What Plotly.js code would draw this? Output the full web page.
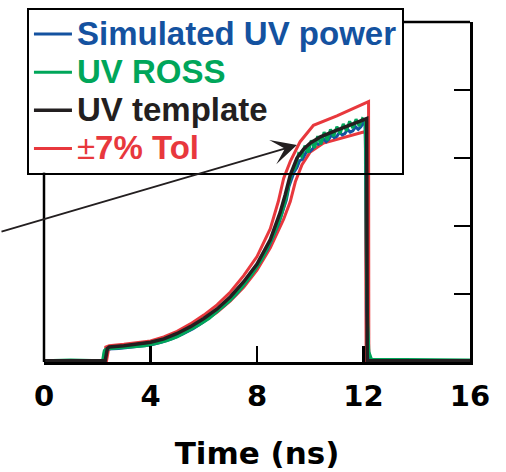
<!DOCTYPE html>
<html>
<head>
<meta charset="utf-8">
<script src="https://cdn.plot.ly/plotly-3.0.1.min.js"></script>
<style>html,body{margin:0;padding:0;background:#fff;}#chart{width:506px;height:472px;}</style>
</head>
<body>
<div id="chart"></div>
<script>
// ---- data ----
const xTickVals = [0, 4, 8, 12, 16];
const xTickText = ['0', '4', '8', '12', '16'];

const tTemplate = [0, 2.3, 2.38, 2.45, 3.0, 3.5, 4.0, 4.5, 5.0, 5.5, 6.0, 6.5, 7.0, 7.5, 8.0, 8.5, 8.87, 9.06, 9.25, 9.5, 9.75, 10.0, 10.38, 11.0, 11.5, 12.12, 12.14, 16];
const yTemplate = [0.02, 0.02, 0.20, 0.22, 0.24, 0.26, 0.29, 0.34, 0.42, 0.52, 0.64, 0.78, 0.96, 1.18, 1.44, 1.80, 2.20, 2.46, 2.75, 3.00, 3.13, 3.22, 3.31, 3.41, 3.48, 3.58, 0.02, 0.02];

const tTolUp = [0, 2.28, 2.32, 2.45, 3.0, 3.5, 4.0, 4.5, 5.0, 5.5, 6.0, 6.5, 7.0, 7.5, 8.0, 8.5, 8.8, 9.0, 9.25, 9.62, 10.12, 11.0, 12.19, 12.2, 16];
const yTolUp = [0.02, 0.02, 0.22, 0.24, 0.26, 0.28, 0.31, 0.37, 0.45, 0.56, 0.69, 0.84, 1.03, 1.27, 1.55, 1.96, 2.36, 2.70, 2.95, 3.24, 3.48, 3.62, 3.83, 0.02, 0.02];

const tTolLow = [0, 2.35, 2.42, 2.5, 3.0, 3.5, 4.0, 4.5, 5.0, 5.5, 6.0, 6.5, 7.0, 7.5, 8.0, 8.5, 9.0, 9.25, 9.44, 9.69, 10.0, 10.5, 12.07, 12.1, 16];
const yTolLow = [0.02, 0.02, 0.18, 0.20, 0.22, 0.24, 0.27, 0.31, 0.39, 0.48, 0.60, 0.73, 0.90, 1.10, 1.35, 1.68, 2.10, 2.36, 2.65, 2.90, 3.09, 3.22, 3.39, 0.02, 0.02];

const tRoss = [0, 1, 2.2, 2.26, 2.32, 2.6, 3.0, 3.4, 3.8, 4.2, 4.6, 5.0, 5.4, 5.8, 6.2, 6.6, 7.0, 7.4, 7.8, 8.2, 8.6, 8.9, 9.1,
  9.2, 9.32, 9.44, 9.56, 9.68, 9.8, 9.92, 10.04, 10.16, 10.28, 10.4, 10.52, 10.64, 10.76, 10.88, 11.0, 11.12, 11.24, 11.36, 11.48, 11.6, 11.72, 11.84, 11.96, 12.06, 12.08, 12.12, 12.2, 12.3, 16];
const yRoss = [0.02, 0.03, 0.02, 0.16, 0.19, 0.20, 0.21, 0.22, 0.24, 0.27, 0.31, 0.37, 0.45, 0.54, 0.64, 0.77, 0.91, 1.08, 1.28, 1.52, 1.84, 2.14, 2.42,
  2.62, 2.80, 2.86, 3.06, 3.02, 3.18, 3.08, 3.26, 3.15, 3.32, 3.20, 3.38, 3.26, 3.42, 3.32, 3.46, 3.36, 3.50, 3.40, 3.54, 3.44, 3.57, 3.47, 3.58, 3.56, 3.20, 1.00, 0.15, 0.04, 0.03];

const tSim = [0, 2.22, 2.28, 2.4, 2.8, 3.2, 3.6, 4.0, 4.4, 4.8, 5.2, 5.6, 6.0, 6.4, 6.8, 7.2, 7.6, 8.0, 8.4, 8.8, 9.1,
  9.2, 9.3, 9.4, 9.5, 9.6, 9.7, 9.8, 9.9, 10.0, 10.1, 10.2, 10.3, 10.4, 10.5, 10.6, 10.7, 10.8, 10.9, 11.0, 11.1, 11.2, 11.3, 11.4, 11.5, 11.6, 11.7, 11.8, 11.9, 12.0, 12.06, 12.08, 12.12, 12.2, 12.3, 16];
const ySim = [0.02, 0.02, 0.17, 0.19, 0.20, 0.22, 0.23, 0.25, 0.29, 0.34, 0.41, 0.49, 0.59, 0.71, 0.84, 0.99, 1.18, 1.40, 1.66, 2.02, 2.38,
  2.58, 2.70, 2.80, 2.86, 2.96, 2.98, 3.06, 3.12, 3.10, 3.14, 3.22, 3.20, 3.22, 3.28, 3.24, 3.28, 3.34, 3.30, 3.32, 3.38, 3.34, 3.36, 3.42, 3.38, 3.40, 3.46, 3.42, 3.46, 3.52, 3.50, 3.00, 0.80, 0.10, 0.03, 0.02];

const names = ['Simulated UV power', 'UV ROSS', 'UV template', '7% Tol'];
const colors = { sim: '#1452A0', ross: '#00A65A', tpl: '#231F20', tol: '#E8383D' };

function legendName(label, color, prefix) {
  return '<span style="font-size:33px;color:' + color + '">' + (prefix || '') + label + '</span>';
}

// ---- traces (draw order: tolerance, simulated, ROSS, template) ----
const traces = [
  { x: tTolUp, y: yTolUp, mode: 'lines', line: { color: colors.tol, width: 3 },
    name: legendName(names[3], colors.tol, '<span style="font-weight:normal">±</span>'),
    legendgroup: 'tol', legendrank: 4 },
  { x: tTolLow, y: yTolLow, mode: 'lines', line: { color: colors.tol, width: 3 },
    legendgroup: 'tol', showlegend: false },
  { x: tSim, y: ySim, mode: 'lines', line: { color: colors.sim, width: 3 },
    name: legendName(names[0], colors.sim), legendrank: 1 },
  { x: tRoss, y: yRoss, mode: 'lines', line: { color: colors.ross, width: 3 },
    name: legendName(names[1], colors.ross), legendrank: 2 },
  { x: tTemplate, y: yTemplate, mode: 'lines', line: { color: colors.tpl, width: 3.5 },
    name: legendName(names[2], colors.tpl), legendrank: 3 }
];

const axisFont = { family: 'DejaVu Sans, Arial, sans-serif', size: 29, color: '#000', weight: 'bold' };

const layout = {
  width: 506, height: 472,
  margin: { l: 44, r: 36, t: 22, b: 110, pad: 0, autoexpand: false },
  paper_bgcolor: '#fff', plot_bgcolor: '#fff',
  showlegend: true,
  legend: {
    x: -0.04, y: 1.041, xanchor: 'left', yanchor: 'top',
    bgcolor: 'rgba(255,255,255,0)', bordercolor: '#000', borderwidth: 2,
    font: { family: 'Liberation Sans, Arial, sans-serif', size: 27, color: '#000', weight: 'bold' },
    traceorder: 'normal', itemwidth: 38
  },
  xaxis: {
    range: [0, 16], tickmode: 'array', tickvals: xTickVals, ticktext: xTickText,
    ticks: 'inside', ticklen: 16, tickwidth: 2.5, tickcolor: '#000',
    showline: true, linewidth: 2.5, linecolor: '#000', mirror: false,
    showgrid: false, zeroline: false, tickfont: axisFont, ticklabelstandoff: 7,
    title: { text: 'Time (ns)', font: { family: 'DejaVu Sans, Arial, sans-serif', size: 31, color: '#000', weight: 'bold' }, standoff: 30 }
  },
  yaxis: {
    range: [0, 5], side: 'right', tickmode: 'array', tickvals: [1, 2, 3, 4],
    ticks: 'inside', ticklen: 16, tickwidth: 2.5, tickcolor: '#000',
    showline: true, linewidth: 2.5, linecolor: '#000', mirror: false,
    showticklabels: false, showgrid: false, zeroline: false
  },
  yaxis2: {
    range: [0, 5], overlaying: 'y', side: 'left', tickmode: 'array', tickvals: [1, 2],
    ticks: 'inside', ticklen: 16, tickwidth: 2.5, tickcolor: '#000',
    showline: false, showticklabels: false, showgrid: false, zeroline: false
  },
  shapes: [
    { type: 'line', xref: 'paper', yref: 'paper', x0: 0, x1: 0, y0: 0, y1: 0.557, line: { color: '#000', width: 2.5 } },
    { type: 'line', xref: 'paper', yref: 'paper', x0: 0.845, x1: 1, y0: 1, y1: 1, line: { color: '#000', width: 2.5 } }
  ],
  annotations: [
    { x: 9.5, y: 3.19, xref: 'x', yref: 'y', ax: -297, ay: 87, text: '', showarrow: true,
      arrowhead: 3, arrowsize: 2.1, arrowwidth: 2, arrowcolor: '#231F20', standoff: 0 }
  ]
};

Plotly.newPlot('chart', traces, layout, { displayModeBar: false, staticPlot: true });
</script>
</body>
</html>
